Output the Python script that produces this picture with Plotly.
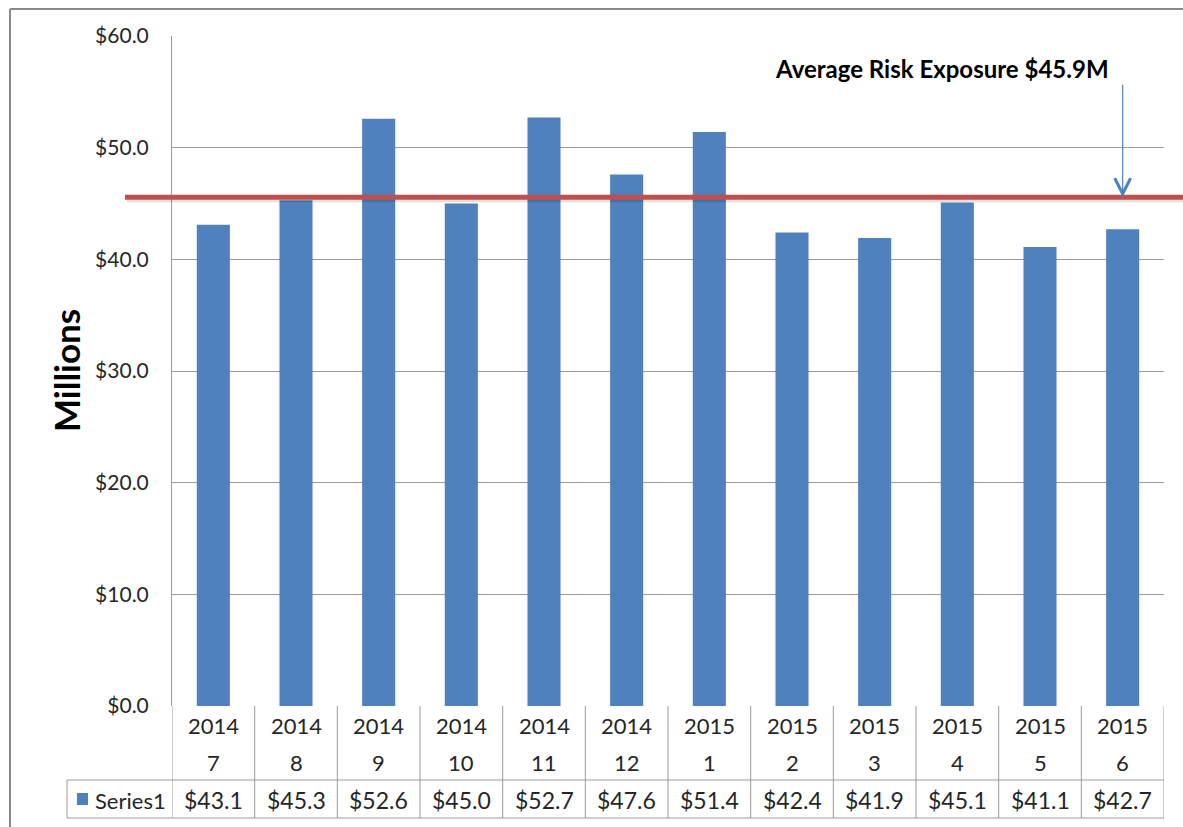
import plotly.graph_objects as go

years = ["2014"] * 6 + ["2015"] * 6
months = ["7", "8", "9", "10", "11", "12", "1", "2", "3", "4", "5", "6"]
categories = [f"{y}-{m}" for y, m in zip(years, months)]
values = [43.1, 45.3, 52.6, 45.0, 52.7, 47.6, 51.4, 42.4, 41.9, 45.1, 41.1, 42.7]
series_name = "Series1"
avg_line_value = 45.55
avg_label = "Average Risk Exposure $45.9M"

W, H = 1183, 827
L, T = 172, 36
R = W - 1164
B = H - 706
PW, PH = W - L - R, H - T - B

def px_x(p):
    return (p - L) / PW

def px_y(p):
    return (H - B - p) / PH

BAR = "#4F81BD"
GRID = "#9a9a9a"
TXT = "#262626"
FONT = "Lato"

fig = go.Figure()
fig.add_trace(go.Bar(x=categories, y=values, marker=dict(color=BAR, line=dict(width=0)),
                     width=0.4, name=series_name, showlegend=False))

shapes = []
anns = []

# outer chart border (left and top)
shapes.append(dict(type="line", xref="paper", yref="paper", x0=px_x(10), x1=px_x(1200),
                   y0=px_y(9), y1=px_y(9), line=dict(color="#8a8a8a", width=2)))
shapes.append(dict(type="line", xref="paper", yref="paper", x0=px_x(10), x1=px_x(10),
                   y0=px_y(9), y1=px_y(840), line=dict(color="#8a8a8a", width=2)))

# table grid
y_hdr = px_y(780)
y_bot = px_y(818)
for i in range(len(categories) + 1):
    shapes.append(dict(type="line", xref="x", yref="paper", x0=i - 0.5, x1=i - 0.5,
                       y0=0, y1=y_bot, line=dict(color=GRID, width=1)))
shapes.append(dict(type="line", xref="paper", yref="paper", x0=px_x(67), x1=1,
                   y0=y_hdr, y1=y_hdr, line=dict(color=GRID, width=1)))
shapes.append(dict(type="line", xref="paper", yref="paper", x0=px_x(67), x1=1,
                   y0=y_bot, y1=y_bot, line=dict(color=GRID, width=1)))
shapes.append(dict(type="line", xref="paper", yref="paper", x0=px_x(67), x1=px_x(67),
                   y0=y_hdr, y1=y_bot, line=dict(color=GRID, width=1)))
# legend key square
shapes.append(dict(type="rect", xref="paper", yref="paper", x0=px_x(77), x1=px_x(88),
                   y0=px_y(805), y1=px_y(793), fillcolor=BAR, line=dict(width=0)))

# average line with faint shadow
shapes.append(dict(type="line", xref="paper", yref="y", x0=px_x(127), x1=px_x(1190),
                   y0=avg_line_value - 0.22, y1=avg_line_value - 0.22,
                   line=dict(color="rgba(0,0,0,0.12)", width=5)))
shapes.append(dict(type="line", xref="paper", yref="y", x0=px_x(125), x1=px_x(1190),
                   y0=avg_line_value, y1=avg_line_value,
                   line=dict(color="#C0504D", width=5)))

for c, yv, m, v in zip(categories, years, months, values):
    anns.append(dict(x=c, xref="x", y=px_y(725), yref="paper", text=yv, showarrow=False,
                     font=dict(family=FONT, size=22, color=TXT), yanchor="middle"))
    anns.append(dict(x=c, xref="x", y=px_y(762), yref="paper", text=m, showarrow=False,
                     font=dict(family=FONT, size=22, color=TXT), yanchor="middle"))
    anns.append(dict(x=c, xref="x", y=px_y(800), yref="paper", text=f"${v:.1f}", showarrow=False,
                     font=dict(family=FONT, size=23, color=TXT), yanchor="middle"))

anns.append(dict(x=px_x(93), xref="paper", y=px_y(800), yref="paper", text=series_name,
                 showarrow=False, xanchor="left", yanchor="middle",
                 font=dict(family=FONT, size=22, color=TXT)))

anns.append(dict(x=px_x(66), xref="paper", y=0.5, yref="paper", text="<b>Millions</b>",
                 textangle=-90, showarrow=False, xanchor="center", yanchor="middle",
                 font=dict(family=FONT, size=35, color="#000000")))

anns.append(dict(x=px_x(942), xref="paper", y=px_y(68), yref="paper", text=f"<b>{avg_label}</b>",
                 showarrow=False, xanchor="center", yanchor="middle",
                 font=dict(family=FONT, size=24, color="#000000")))

anns.append(dict(x=categories[-1], xref="x", y=avg_line_value, yref="y", text="",
                 showarrow=True, ax=0, ay=-114, arrowhead=5, arrowsize=2.6, arrowwidth=1.2,
                 arrowcolor=BAR, standoff=0))

fig.update_layout(
    width=W, height=H,
    margin=dict(l=L, r=R, t=T, b=B, autoexpand=False),
    paper_bgcolor="white", plot_bgcolor="white",
    shapes=shapes, annotations=anns,
    bargap=0.6,
    hovermode=False,
    xaxis=dict(type="category", showticklabels=False, showgrid=False, zeroline=False,
               showline=False, ticks="", range=[-0.5, 11.5], fixedrange=True),
    yaxis=dict(range=[0, 60], dtick=10, tickprefix="$", tickformat=".1f",
               showgrid=True, gridcolor=GRID, gridwidth=1, zeroline=False,
               showline=True, linecolor=GRID, linewidth=1, ticks="",
               ticklabelstandoff=18, fixedrange=True,
               tickfont=dict(family=FONT, size=21, color=TXT)),
    font=dict(family=FONT),
)

fig.write_html("out.html", config={"displayModeBar": False},
               post_script="document.body.style.margin='0px';document.body.style.overflow='hidden';")
